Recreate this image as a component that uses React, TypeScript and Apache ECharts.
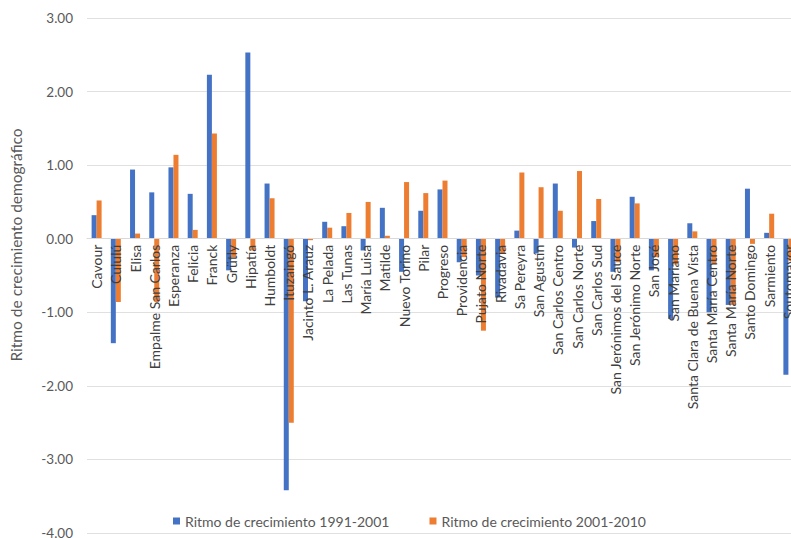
import React, { useEffect, useRef } from "react";
import * as echarts from "echarts";

const categories = [
  "Cavour", "Cululú", "Elisa", "Empalme San Carlos", "Esperanza", "Felicia", "Franck", "Grütly",
  "Hipatía", "Humboldt", "Ituzaingó", "Jacinto L. Arauz", "La Pelada", "Las Tunas", "María Luisa",
  "Matilde", "Nuevo Torino", "Pilar", "Progreso", "Providencia", "Pujato Norte", "Rivadavia",
  "Sa Pereyra", "San Agustín", "San Carlos Centro", "San Carlos Norte", "San Carlos Sud",
  "San Jerónimos del Sauce", "San Jerónimo Norte", "San José", "San Mariano",
  "Santa Clara de Buena Vista", "Santa María Centro", "Santa María Norte", "Santo Domingo",
  "Sarmiento", "Soutomayor",
];

const ritmo1991_2001 = [
  0.32, -1.42, 0.94, 0.63, 0.97, 0.61, 2.23, -0.43, 2.53, 0.75, -3.42, -0.85, 0.23, 0.17, -0.16,
  0.42, -0.45, 0.38, 0.67, -0.32, -0.5, -0.8, 0.11, -0.2, 0.75, -0.12, 0.24, -0.45, 0.57, -0.43,
  -1.09, 0.21, -1.0, -0.9, 0.68, 0.08, -1.85,
];

const ritmo2001_2010 = [
  0.52, -0.86, 0.07, -0.86, 1.14, 0.12, 1.43, -0.25, -0.16, 0.55, -2.5, -0.02, 0.15, 0.35, 0.5,
  0.04, 0.77, 0.62, 0.79, -0.25, -1.25, -0.2, 0.9, 0.7, 0.38, 0.92, 0.54, -0.32, 0.48, -0.25,
  -0.35, 0.1, -0.34, -0.9, -0.07, 0.34, -0.3,
];

const seriesNames = ["Ritmo de crecimiento 1991-2001", "Ritmo de crecimiento 2001-2010"];
const yAxisTitle = "Ritmo de crecimiento demográfico";

const FONT = 'Lato, "Open Sans", sans-serif';

const GRID_TOP = 18;
const GRID_BOTTOM = 5;
const CHART_H = 538;
const Y_MIN = -4;
const Y_MAX = 3;
// shift the category axis up from the grid bottom to the zero line
const zeroOffset = -((CHART_H - GRID_TOP - GRID_BOTTOM) * (0 - Y_MIN)) / (Y_MAX - Y_MIN);

export default function App() {
  const ref = useRef<HTMLDivElement>(null);
  useEffect(() => {
    if (!ref.current) return;
    const chart = echarts.init(ref.current, undefined, { renderer: "svg" });
    chart.setOption({
      animation: false,
      backgroundColor: "#ffffff",
      textStyle: { fontFamily: FONT },
      grid: {
        left: 87,
        right: 0,
        top: GRID_TOP,
        bottom: GRID_BOTTOM,
        containLabel: false,
        outerBoundsMode: "none",
      },
      legend: {
        data: seriesNames,
        top: 509,
        left: 168,
        itemWidth: 7,
        itemHeight: 7,
        itemGap: 40,
        icon: "rect",
        textStyle: { fontFamily: FONT, fontSize: 14, color: "#595959" },
      },
      graphic: [
        {
          type: "text",
          x: 16,
          y: 245,
          rotation: Math.PI / 2,
          style: {
            text: yAxisTitle,
            fontFamily: FONT,
            fontSize: 15.5,
            fill: "#595959",
            align: "center",
            verticalAlign: "middle",
          },
        },
      ],
      xAxis: {
        type: "category",
        data: categories,
        offset: zeroOffset,
        z: 5,
        axisLine: { show: true, onZero: false, lineStyle: { color: "#d9d9d9" } },
        axisTick: { show: false },
        axisLabel: {
          interval: 0,
          rotate: 90,
          margin: 6,
          fontSize: 14,
          fontFamily: FONT,
          color: "#404040",
        },
      },
      yAxis: {
        type: "value",
        min: Y_MIN,
        max: Y_MAX,
        interval: 1,
        axisLine: { show: false },
        axisTick: { show: false },
        splitLine: { lineStyle: { color: "#e0e0e0" } },
        axisLabel: {
          margin: 14,
          fontSize: 13.5,
          fontFamily: FONT,
          color: "#595959",
          formatter: (v: number) => v.toFixed(2),
        },
      },
      series: [
        {
          name: seriesNames[0],
          type: "bar",
          data: ritmo1991_2001,
          barWidth: 5,
          barGap: "0%",
          itemStyle: { color: "#4472C4" },
        },
        {
          name: seriesNames[1],
          type: "bar",
          data: ritmo2001_2010,
          barWidth: 5,
          barGap: "0%",
          itemStyle: { color: "#ED7D31" },
        },
      ],
    });
    return () => chart.dispose();
  }, []);
  return (
    <div
      style={{
        position: "fixed",
        left: 0,
        top: 0,
        width: 791,
        height: 538,
        overflow: "hidden",
        background: "#fff",
      }}
    >
      <div ref={ref} style={{ width: 798, height: 538 }} />
    </div>
  );
}
